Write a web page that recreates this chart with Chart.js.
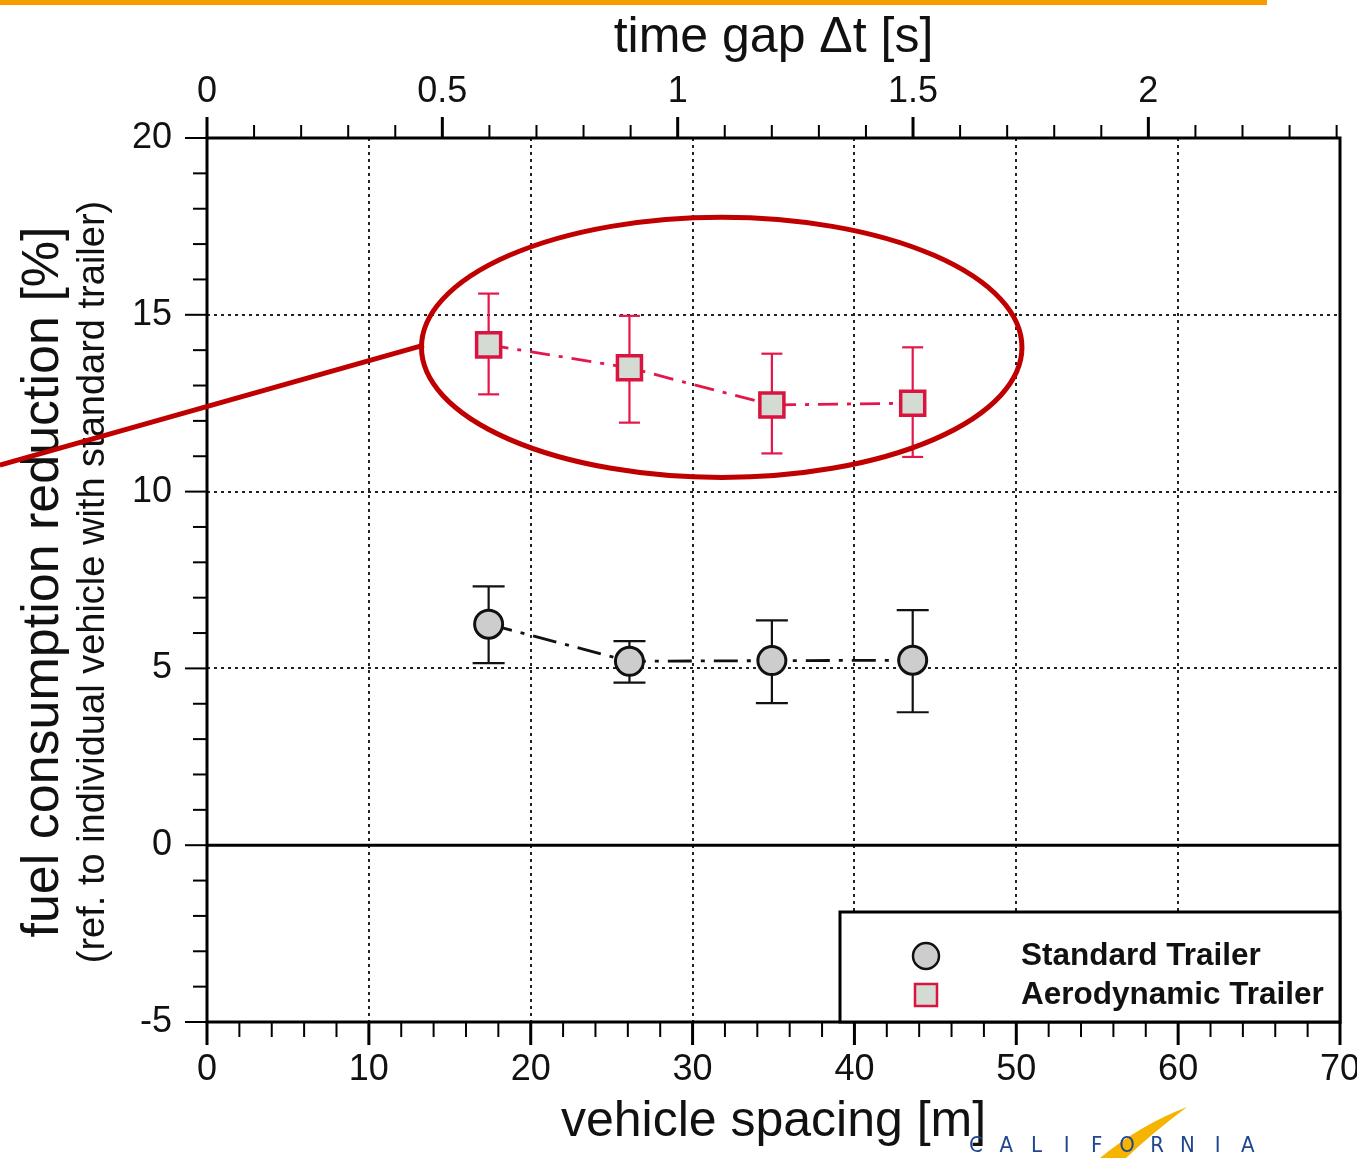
<!DOCTYPE html>
<html>
<head>
<meta charset="utf-8">
<script src="https://cdn.jsdelivr.net/npm/chart.js@4.4.1/dist/chart.umd.min.js"></script>
<style>
    html, body { margin: 0; padding: 0; background: #fff; }
</style>
</head>
<body>
<canvas id="fuelChart" width="1357" height="1158"></canvas>
<script>
// vehicle spacing of the four platoon runs [m]
const spacing = [17.4, 26.1, 34.9, 43.6];

// standard trailer: mean and error bar ends [%]
const standardMean = [6.25, 5.2, 5.22, 5.23];
const standardLow = [5.15, 4.6, 4.02, 3.76];
const standardHigh = [7.32, 5.77, 6.36, 6.65];

// aerodynamic trailer: mean and error bar ends [%]
const aeroMean = [14.15, 13.5, 12.45, 12.5];
const aeroLow = [12.75, 11.95, 11.08, 10.98];
const aeroHigh = [15.6, 14.97, 13.9, 14.08];

// tick labels
const spacingTicks = [0, 10, 20, 30, 40, 50, 60, 70];
const timeTicks = [0, 0.5, 1, 1.5, 2];
const reductionTicks = [-5, 0, 5, 10, 15, 20];

const SPEED = 29.08; // m/s, ties the time gap axis to the spacing axis
const FONT = "'Liberation Sans', Arial, sans-serif";

// highlight annotation (data units)
const ring = { x: 31.8, y: 14.08, rx: 18.55, ry: 3.68 };
const pointer = { x1: -12.8, y1: 10.75, x2: 13.4, y2: 14.14 };

function fixTicks(list) {
    return (scale) => { scale.ticks = list.map(v => ({ value: v })); };
}

function line(ctx, x1, y1, x2, y2) {
    ctx.beginPath();
    ctx.moveTo(x1, y1);
    ctx.lineTo(x2, y2);
    ctx.stroke();
}

const paperPlugin = {
    id: 'paper',
    beforeDatasetsDraw(chart) {
        const { ctx, chartArea: a, scales: { x, y, x2 } } = chart;
        ctx.save();

        // dotted grid
        ctx.strokeStyle = '#222';
        ctx.lineWidth = 2;
        ctx.setLineDash([3, 4]);
        spacingTicks.forEach(v => {
            if (v > 0 && v < 70) {
                const px = Math.round(x.getPixelForValue(v));
                line(ctx, px, a.top, px, a.bottom);
            }
        });
        reductionTicks.forEach(v => {
            if (v > -5 && v < 20 && v !== 0) {
                const py = Math.round(y.getPixelForValue(v));
                line(ctx, a.left, py, a.right, py);
            }
        });
        ctx.setLineDash([]);

        // zero line
        ctx.lineWidth = 3;
        ctx.strokeStyle = '#000';
        const y0 = y.getPixelForValue(0);
        line(ctx, a.left, y0, a.right, y0);

        // frame
        ctx.strokeRect(a.left, a.top, a.right - a.left, a.bottom - a.top);

        // left ticks, every 1 %
        ctx.lineWidth = 2;
        for (let v = -5; v <= 20; v++) {
            const py = y.getPixelForValue(v);
            line(ctx, a.left, py, a.left - (v % 5 === 0 ? 22 : 14), py);
        }
        // bottom ticks, every 2 m
        for (let v = 0; v <= 70; v += 2) {
            const px = x.getPixelForValue(v);
            ctx.lineWidth = v % 10 === 0 ? 3 : 2;
            line(ctx, px, a.bottom, px, a.bottom + (v % 10 === 0 ? 23 : 15));
        }
        // top ticks, every 0.1 s
        for (let i = 0; i <= 24; i++) {
            const v = i / 10;
            const px = x2.getPixelForValue(v);
            ctx.lineWidth = i % 5 === 0 ? 3 : 2;
            line(ctx, px, a.top, px, a.top - (i % 5 === 0 ? 21 : 13));
        }

        // error bars
        chart.data.datasets.forEach((ds) => {
            ctx.strokeStyle = ds.errColor;
            ctx.lineWidth = 2.2;
            ds.data.forEach((p, i) => {
                const px = x.getPixelForValue(p.x);
                const lo = y.getPixelForValue(ds.errLow[i]);
                const hi = y.getPixelForValue(ds.errHigh[i]);
                line(ctx, px, lo, px, hi);
                line(ctx, px - ds.capWidth / 2, lo, px + ds.capWidth / 2, lo);
                line(ctx, px - ds.capWidth / 2, hi, px + ds.capWidth / 2, hi);
            });
        });
        ctx.restore();
    },
    afterDraw(chart) {
        const { ctx, scales: { x, y } } = chart;
        ctx.save();

        // y axis titles
        ctx.fillStyle = '#111';
        ctx.textAlign = 'center';
        ctx.textBaseline = 'middle';
        ctx.translate(44, 582);
        ctx.rotate(-Math.PI / 2);
        ctx.font = `52px ${FONT}`;
        ctx.fillText('fuel consumption reduction [%]', 0, 0);
        ctx.font = `38px ${FONT}`;
        ctx.fillText('(ref. to individual vehicle with standard trailer)', 0, 50);
        ctx.setTransform(1, 0, 0, 1, 0, 0);

        // legend box
        const lx = 840, ly = 912, lw = 500, lh = 110;
        ctx.fillStyle = '#fff';
        ctx.fillRect(lx, ly, lw, lh);
        ctx.strokeStyle = '#000';
        ctx.lineWidth = 3;
        ctx.strokeRect(lx, ly, lw, lh);
        chart.data.datasets.forEach((ds, i) => {
            const cy = 956 + i * 39;
            ctx.fillStyle = ds.pointBackgroundColor;
            ctx.strokeStyle = ds.pointBorderColor;
            ctx.lineWidth = 2.5;
            ctx.beginPath();
            if (ds.pointStyle === 'circle') {
                ctx.arc(926, cy, 13, 0, Math.PI * 2);
            } else {
                ctx.rect(915, cy - 11, 22, 22);
            }
            ctx.fill();
            ctx.stroke();
            ctx.fillStyle = '#111';
            ctx.font = `bold 31.5px ${FONT}`;
            ctx.textAlign = 'left';
            ctx.textBaseline = 'middle';
            ctx.fillText(ds.label, 1021, cy);
        });

        // red highlight ring and pointer
        ctx.strokeStyle = '#c00000';
        ctx.lineWidth = 5;
        const cx = x.getPixelForValue(ring.x);
        const cy = y.getPixelForValue(ring.y);
        const rx = x.getPixelForValue(ring.x + ring.rx) - cx;
        const ry = cy - y.getPixelForValue(ring.y + ring.ry);
        ctx.beginPath();
        ctx.ellipse(cx, cy, rx, ry, 0, 0, Math.PI * 2);
        ctx.stroke();
        line(ctx, x.getPixelForValue(pointer.x1), y.getPixelForValue(pointer.y1),
            x.getPixelForValue(pointer.x2), y.getPixelForValue(pointer.y2));

        // orange rule at the top
        ctx.fillStyle = '#f59c00';
        ctx.fillRect(0, 0, 1267, 5);

        // California logo
        ctx.fillStyle = '#f5b400';
        ctx.beginPath();
        ctx.moveTo(1100, 1158);
        ctx.quadraticCurveTo(1140, 1125, 1187, 1107);
        ctx.quadraticCurveTo(1150, 1135, 1126, 1158);
        ctx.closePath();
        ctx.fill();
        ctx.fillStyle = '#1f4690';
        ctx.font = `22px 'DejaVu Sans Condensed', ${FONT}`;
        ctx.textAlign = 'center';
        ctx.textBaseline = 'alphabetic';
        'CALIFORNIA'.split('').forEach((c, i) => {
            ctx.fillText(c, 976 + i * 30.2, 1152);
        });
        ctx.restore();
    }
};

const tickFont = { family: FONT, size: 36 };

function noSidePadding(s) {
    s.paddingLeft = 0;
    s.paddingRight = 0;
}

const fuelChartConfig = {
    type: 'line',
    data: {
        datasets: [{
            label: 'Standard Trailer',
            data: spacing.map((v, i) => ({ x: v, y: standardMean[i] })),
            errLow: standardLow,
            errHigh: standardHigh,
            errColor: '#111',
            capWidth: 32,
            borderColor: '#111',
            borderWidth: 2.8,
            borderDash: [24, 9, 4, 9],
            pointStyle: 'circle',
            pointRadius: 14,
            pointBackgroundColor: '#cdcdcd',
            pointBorderColor: '#111',
            pointBorderWidth: 3,
            fill: false,
            tension: 0
        }, {
            label: 'Aerodynamic Trailer',
            data: spacing.map((v, i) => ({ x: v, y: aeroMean[i] })),
            errLow: aeroLow,
            errHigh: aeroHigh,
            errColor: '#e3174a',
            capWidth: 21,
            borderColor: '#e3174a',
            borderWidth: 2.8,
            borderDash: [20, 9, 4, 9],
            pointStyle: 'rect',
            pointRadius: 17,
            pointBackgroundColor: '#d3dbd3',
            pointBorderColor: '#d8143f',
            pointBorderWidth: 3.5,
            fill: false,
            tension: 0
        }]
    },
    options: {
        responsive: false,
        animation: false,
        layout: {
            autoPadding: false,
            padding: { left: 0, right: 17, top: 0, bottom: 0 }
        },
        plugins: {
            legend: { display: false },
            title: { display: false },
            tooltip: { enabled: false }
        },
        scales: {
            x: {
                type: 'linear',
                position: 'bottom',
                min: 0,
                max: 70,
                afterBuildTicks: fixTicks(spacingTicks),
                afterFit: (s) => { s.height = 136; noSidePadding(s); },
                grid: { display: false, drawTicks: false },
                border: { display: false },
                ticks: { font: tickFont, color: '#111', padding: 26, maxRotation: 0 },
                title: {
                    display: true,
                    text: 'vehicle spacing [m]',
                    font: { family: FONT, size: 50 },
                    color: '#111',
                    padding: { top: 0, bottom: 6 }
                }
            },
            x2: {
                type: 'linear',
                position: 'top',
                min: 0,
                max: 70 / SPEED,
                afterBuildTicks: fixTicks(timeTicks),
                afterFit: (s) => { s.height = 138; noSidePadding(s); },
                grid: { display: false, drawTicks: false },
                border: { display: false },
                ticks: {
                    font: tickFont, color: '#111', padding: 24, maxRotation: 0,
                    callback: (v) => String(v)
                },
                title: {
                    display: true,
                    text: 'time gap \u0394t [s]',
                    font: { family: FONT, size: 50 },
                    color: '#111',
                    padding: { top: 8, bottom: 0 }
                }
            },
            y: {
                type: 'linear',
                position: 'left',
                min: -5,
                max: 20,
                afterBuildTicks: fixTicks(reductionTicks),
                afterFit: (s) => { s.width = 207; s.paddingTop = 0; s.paddingBottom = 0; },
                grid: { display: false, drawTicks: false },
                border: { display: false },
                ticks: { font: tickFont, color: '#111', padding: 35 }
            }
        }
    },
    plugins: [paperPlugin]
};

const fuelChart = new Chart(document.getElementById('fuelChart').getContext('2d'), fuelChartConfig);
</script>
</body>
</html>
